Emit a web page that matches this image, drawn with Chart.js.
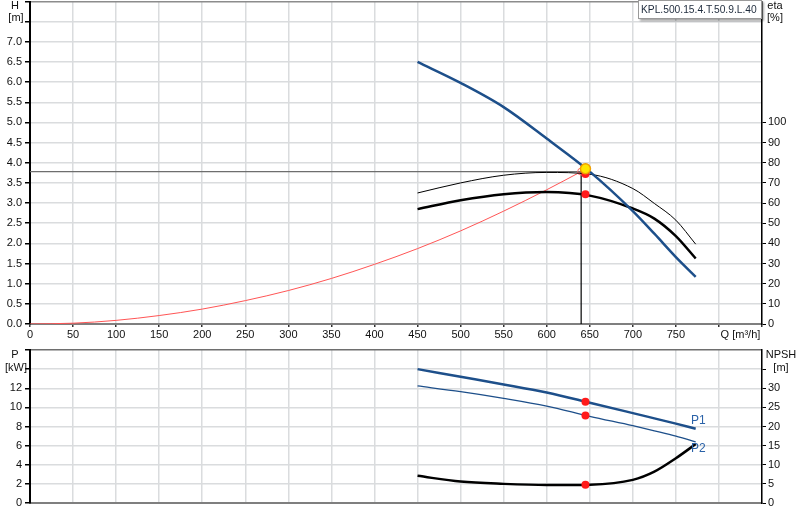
<!DOCTYPE html>
<html><head><meta charset="utf-8">
<script src="https://cdn.jsdelivr.net/npm/chart.js@4.4.1/dist/chart.umd.min.js"></script>
<style>
html,body{margin:0;padding:0;background:#fff;}
#wrap{position:relative;width:800px;height:520px;overflow:hidden;}
canvas{position:absolute;left:0;}
</style></head><body>
<div id="wrap"><canvas id="c1" width="800" height="346"></canvas><canvas id="c2" width="800" height="174"></canvas></div>
<script>
// ---- data ----
const flowQ   = [450, 500, 550, 600, 650, 700, 725, 750, 773];
const headH   = [6.50, 5.98, 5.38, 4.60, 3.78, 2.80, 2.24, 1.66, 1.17];
const etaPump = [65.0, 70.0, 73.8, 75.2, 74.3, 67.2, 59.8, 51.5, 39.6];
const etaTot  = [57.0, 61.4, 64.4, 65.5, 63.7, 57.3, 52.3, 43.6, 32.5];
const powerP1 = [14.0, 13.2, 12.4, 11.55, 10.49, 9.40, 8.85, 8.30, 7.76];
const powerP2 = [12.24, 11.65, 10.95, 10.14, 9.06, 8.08, 7.55, 7.00, 6.39];
const npshR   = [7.1, 5.6, 5.0, 4.7, 4.8, 6.05, 8.2, 11.7, 15.4];
const sysQ    = [0, 50, 100, 150, 200, 250, 300, 350, 400, 450, 500, 550, 600, 640];
const sysH    = [0, 0.02, 0.09, 0.21, 0.37, 0.58, 0.83, 1.13, 1.48, 1.87, 2.31, 2.80, 3.33, 3.78];
const dutyQ = [640], dutyH = [3.78];
const opQ = [645], opH = [3.85];
const opEta = [74.4, 64.4];
const opP1 = [10.6], opP2 = [9.16], opNpsh = [4.74];
const qTicks = [0,50,100,150,200,250,300,350,400,450,500,550,600,650,700,750];
const pumpName = 'KPL.500.15.4.T.50.9.L.40';

const xy = (xs, ys) => xs.map((x, i) => ({x: x, y: ys[i]}));

Chart.defaults.font.family = '"Liberation Sans", Arial, sans-serif';
Chart.defaults.font.size = 11;
Chart.defaults.color = '#111';

const GRID = '#dadcde';
const BLUE = '#1d4f8a';
const FONT = '"Liberation Sans", Arial, sans-serif';

const baseLine = {fill: false, pointRadius: 0, cubicInterpolationMode: 'monotone'};

// Build a chart so that its plot area lands on [areaTop, areaBottom] of the page.
function buildChart(canvas, areaTop, areaBottom, xAxisH, makeConfig) {
  const state = {top: 0};
  function create(cTop, cH) {
    canvas.height = cH; canvas.width = 800;
    canvas.style.top = cTop + 'px';
    state.top = cTop;
    return new Chart(canvas, makeConfig(state));
  }
  let ch = create(areaTop, areaBottom + xAxisH - areaTop);
  const t = ch.chartArea.top;
  const cTop = Math.round(areaTop - t);
  if (cTop !== areaTop) {
    ch.destroy();
    ch = create(cTop, areaBottom + xAxisH - cTop);
  }
  return ch;
}

// ---------- top chart ----------
buildChart(document.getElementById('c1'), 1, 324, 22, state => ({
  type: 'line',
  data: {
    datasets: [
      {data: xy(opQ, opH), yAxisID: 'yH', showLine: false, pointRadius: 5, pointBackgroundColor: '#ffe600', pointBorderColor: '#f0a000', pointBorderWidth: 1.5},
      {data: xy([opQ[0], opQ[0]], opEta), yAxisID: 'yEta', showLine: false, pointRadius: 4, pointBackgroundColor: '#ff1a1a', pointBorderColor: '#ff1a1a', pointBorderWidth: 0},
      Object.assign({}, baseLine, {data: xy(flowQ, headH), yAxisID: 'yH', borderColor: BLUE, borderWidth: 2.5}),
      Object.assign({}, baseLine, {data: xy(flowQ, etaPump), yAxisID: 'yEta', borderColor: '#000', borderWidth: 1}),
      Object.assign({}, baseLine, {data: xy(flowQ, etaTot), yAxisID: 'yEta', borderColor: '#000', borderWidth: 2.5}),
      Object.assign({}, baseLine, {data: xy(sysQ, sysH), yAxisID: 'yH', borderColor: '#ff5555', borderWidth: 1,
        pointRadius: sysQ.map((q, i) => i === sysQ.length - 1 ? 3.5 : 0), pointBackgroundColor: 'rgba(0,0,0,0)', pointBorderColor: '#ff7070', pointBorderWidth: 1}),
      {data: xy([dutyQ[0], dutyQ[0]], [dutyH[0], 0]), yAxisID: 'yH', borderColor: '#000', borderWidth: 1.2, pointRadius: 0, fill: false},
      {data: xy([0, dutyQ[0]], [dutyH[0], dutyH[0]]), yAxisID: 'yH', borderColor: '#6e6e6e', borderWidth: 1.2, pointRadius: 0, fill: false}
    ]
  },
  options: {
    responsive: false, maintainAspectRatio: false, animation: false,
    layout: {padding: 0},
    plugins: {legend: {display: false}, tooltip: {enabled: false}},
    scales: {
      x: {type: 'linear', min: 0, max: 850,
        ticks: {stepSize: 50, autoSkip: false, maxRotation: 0, padding: 1, callback: v => qTicks.includes(v) ? String(v) : ''},
        grid: {color: GRID, lineWidth: 1.5, tickLength: 3, tickColor: '#333'},
        border: {color: '#7f7f7f', width: 2},
        afterFit: s => { s.height = 22; s.paddingLeft = 0; s.paddingRight = 0; }
      },
      yH: {position: 'left', min: 0, max: 8,
        ticks: {stepSize: 0.5, autoSkip: false, padding: 3, callback: v => v <= 7.001 ? v.toFixed(1) : ''},
        grid: {color: c => (c.tick && c.tick.value > 7.9) ? '#8c8c8c' : GRID, lineWidth: 1.5, tickLength: 5, tickColor: '#000'},
        border: {color: '#000', width: 2},
        afterFit: s => { s.width = 30; s.paddingTop = 0; s.paddingBottom = 0; }
      },
      yEta: {position: 'right', min: 0, max: 160,
        ticks: {stepSize: 10, autoSkip: false, padding: 2, callback: v => v <= 100 ? String(v) : ''},
        grid: {drawOnChartArea: false, tickLength: 4, tickColor: c => (c.tick && c.tick.value <= 100) ? '#000' : 'rgba(0,0,0,0)'},
        border: {color: '#000', width: 1.5},
        afterFit: s => { s.width = 38; s.paddingTop = 0; s.paddingBottom = 0; }
      }
    }
  },
  plugins: [{
    id: 'topText',
    afterDraw(chart) {
      const ctx = chart.ctx, o = state.top;
      ctx.save();
      ctx.font = '11px ' + FONT;
      ctx.fillStyle = '#111';
      ctx.textAlign = 'center'; ctx.textBaseline = 'middle';
      ctx.fillText('H', 15, 6 - o);
      ctx.fillText('[m]', 16, 18 - o);
      ctx.fillText('eta', 775, 6 - o);
      ctx.fillText('[%]', 775, 18 - o);
      const xs = chart.scales.x;
      ctx.fillText('Q [m\u00B3/h]', xs.getPixelForValue(825), 335 - o);
      // name box
      ctx.save();
      ctx.shadowColor = 'rgba(0,0,0,0.35)'; ctx.shadowOffsetX = 1.5; ctx.shadowOffsetY = 1.5; ctx.shadowBlur = 2;
      ctx.fillStyle = '#fff';
      ctx.fillRect(638, 0 - o, 124, 19);
      ctx.restore();
      ctx.strokeStyle = '#9a9a9a'; ctx.lineWidth = 1;
      ctx.strokeRect(638.5, 0.5 - o, 123, 18);
      let fs = 11;
      ctx.font = fs + 'px ' + FONT;
      while (ctx.measureText(pumpName).width > 118 && fs > 8) { fs -= 0.25; ctx.font = fs + 'px ' + FONT; }
      ctx.fillStyle = '#1e2b3c'; ctx.textAlign = 'left';
      ctx.fillText(pumpName, 641, 10 - o);
      ctx.restore();
    }
  }]
}));

// ---------- bottom chart ----------
buildChart(document.getElementById('c2'), 350, 503, 17, state => ({
  type: 'line',
  data: {
    datasets: [
      {data: xy([opQ[0], opQ[0]], [opP1[0], opP2[0]]), yAxisID: 'yP', showLine: false, pointRadius: 4, pointBackgroundColor: '#ff1a1a', pointBorderColor: '#ff1a1a', pointBorderWidth: 0},
      {data: xy(opQ, opNpsh), yAxisID: 'yN', showLine: false, pointRadius: 4, pointBackgroundColor: '#ff1a1a', pointBorderColor: '#ff1a1a', pointBorderWidth: 0},
      Object.assign({}, baseLine, {data: xy(flowQ, powerP1), yAxisID: 'yP', borderColor: BLUE, borderWidth: 2.5}),
      Object.assign({}, baseLine, {data: xy(flowQ, powerP2), yAxisID: 'yP', borderColor: BLUE, borderWidth: 1.3}),
      Object.assign({}, baseLine, {data: xy(flowQ, npshR), yAxisID: 'yN', borderColor: '#000', borderWidth: 2.5})
    ]
  },
  options: {
    responsive: false, maintainAspectRatio: false, animation: false,
    layout: {padding: 0},
    plugins: {legend: {display: false}, tooltip: {enabled: false}},
    scales: {
      x: {type: 'linear', min: 0, max: 850,
        ticks: {display: false, stepSize: 50, autoSkip: false},
        grid: {color: GRID, lineWidth: 1.5, drawTicks: false},
        border: {color: '#7f7f7f', width: 2},
        afterFit: s => { s.height = 17; s.paddingLeft = 0; s.paddingRight = 0; }
      },
      yP: {position: 'left', min: 0, max: 16,
        ticks: {stepSize: 2, autoSkip: false, padding: 3, callback: v => v <= 12 ? String(v) : ''},
        grid: {color: c => (c.tick && c.tick.value > 15.9) ? '#6e6e6e' : GRID, lineWidth: 1.5, tickLength: 5, tickColor: '#000'},
        border: {color: '#000', width: 2},
        afterFit: s => { s.width = 30; s.paddingTop = 0; s.paddingBottom = 0; }
      },
      yN: {position: 'right', min: 0, max: 40,
        ticks: {stepSize: 5, autoSkip: false, padding: 2, callback: v => v <= 30 ? String(v) : ''},
        grid: {drawOnChartArea: false, tickLength: 4, tickColor: c => (c.tick && c.tick.value <= 35) ? '#000' : 'rgba(0,0,0,0)'},
        border: {color: '#000', width: 1.5},
        afterFit: s => { s.width = 38; s.paddingTop = 0; s.paddingBottom = 0; }
      }
    }
  },
  plugins: [{
    id: 'botText',
    afterDraw(chart) {
      const ctx = chart.ctx, o = state.top;
      ctx.save();
      ctx.font = '11px ' + FONT;
      ctx.fillStyle = '#111';
      ctx.textAlign = 'center'; ctx.textBaseline = 'middle';
      ctx.fillText('P', 15, 355 - o);
      ctx.fillText('[kW]', 16, 368 - o);
      ctx.fillText('NPSH', 781, 355 - o);
      ctx.fillText('[m]', 781, 368 - o);
      const xs = chart.scales.x, ys = chart.scales.yP;
      ctx.fillStyle = '#2a62a8';
      ctx.font = '12px ' + FONT;
      ctx.fillText('P1', xs.getPixelForValue(776), ys.getPixelForValue(8.6));
      ctx.fillText('P2', xs.getPixelForValue(776), ys.getPixelForValue(5.7));
      ctx.restore();
    }
  }]
}));
</script>
</body></html>
